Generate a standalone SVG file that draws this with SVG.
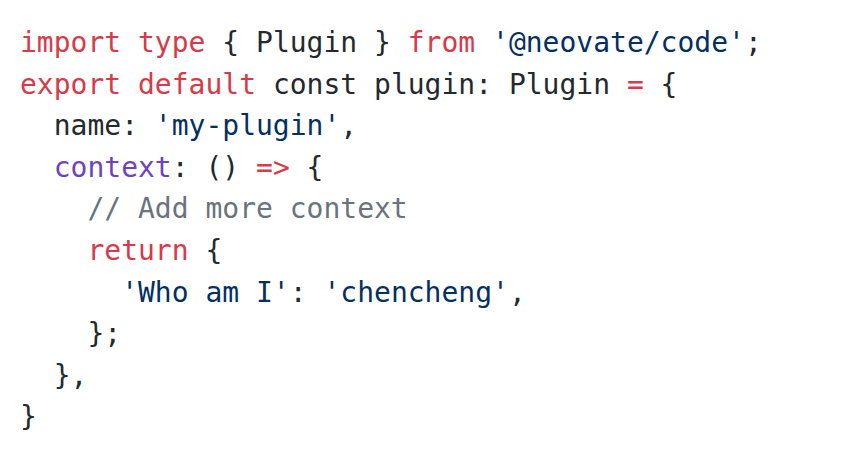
<svg xmlns="http://www.w3.org/2000/svg" width="856" height="462" viewBox="0 0 856 462">
<style>
text{font-family:"DejaVu Sans Mono","Liberation Mono",monospace;font-size:28px;fill:#24292e;white-space:pre}
.k{fill:#d73a49}.s{fill:#032f62}.f{fill:#6f42c1}.c{fill:#6a737d}
</style>
<rect width="856" height="462" fill="#ffffff"/>
<g id="code" xml:space="preserve">
<text x="20" y="52"><tspan class="k">import</tspan> <tspan class="k">type</tspan> { Plugin } <tspan class="k">from</tspan> <tspan class="s">'@neovate/code'</tspan>;</text>
<text x="20" y="93.6"><tspan class="k">export</tspan> <tspan class="k">default</tspan> const plugin: Plugin <tspan class="k">=</tspan> {</text>
<text x="20" y="135.2">  name: <tspan class="s">'my-plugin'</tspan>,</text>
<text x="20" y="176.8">  <tspan class="f">context</tspan>: () <tspan class="k">=&gt;</tspan> {</text>
<text x="20" y="218.4" class="c">    // Add more context</text>
<text x="20" y="260">    <tspan class="k">return</tspan> {</text>
<text x="20" y="301.6">      <tspan class="s">'Who am I'</tspan>: <tspan class="s">'chencheng'</tspan>,</text>
<text x="20" y="343.2">    };</text>
<text x="20" y="384.8">  },</text>
<text x="20" y="426.4">}</text>
</g>
</svg>
